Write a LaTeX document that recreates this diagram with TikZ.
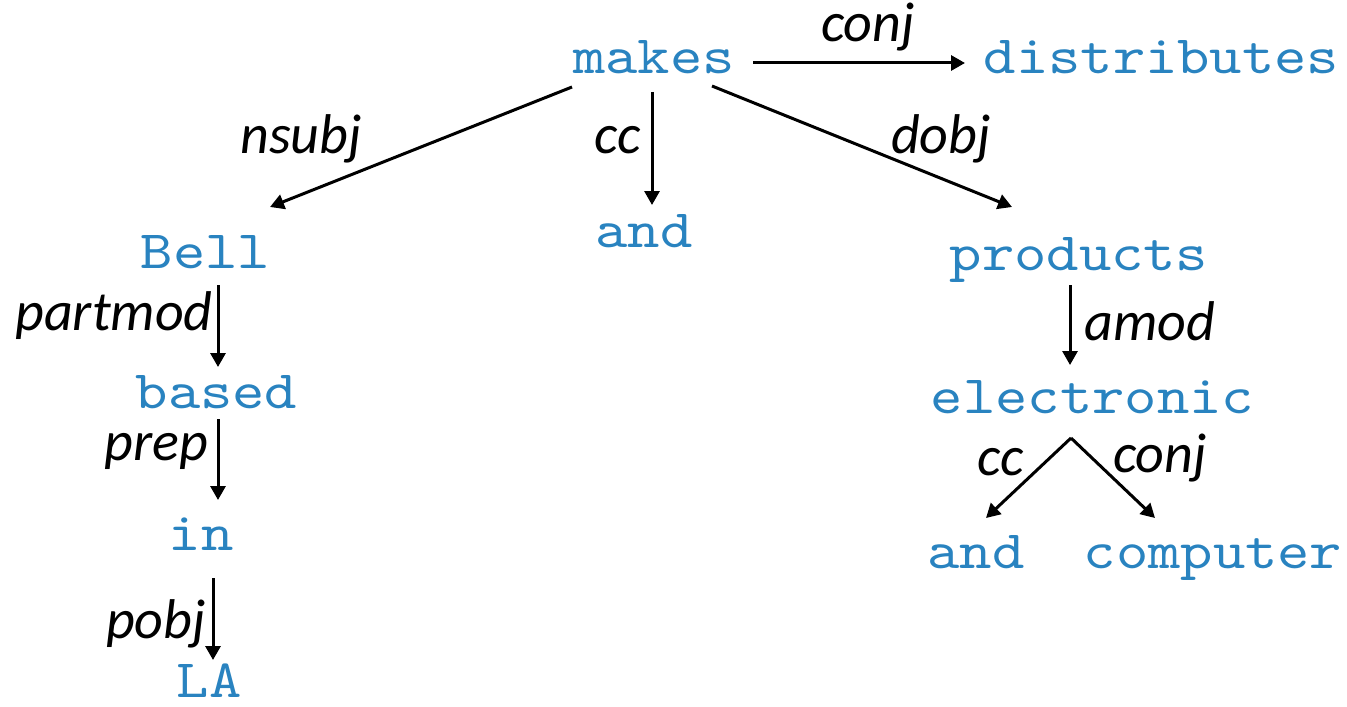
\documentclass[tikz,border=0pt]{standalone}
\usepackage{fontspec}
\newfontfamily\wordfont{lmmono10-regular.otf}[FakeStretch=1.14]
\newfontfamily\relfont{Carlito}
\usetikzlibrary{arrows.meta}
\definecolor{wordblue}{RGB}{41,131,192}

\begin{document}
\begin{tikzpicture}[x=0.5pt, y=-0.5pt, every node/.style={inner sep=0pt, anchor=base},
word/.style={text=wordblue, font={\wordfont\fontsize{27}{30}\selectfont}},
rel/.style={font={\relfont\itshape\fontsize{28}{32}\selectfont}}
]

\useasboundingbox (0,0) rectangle (1347,706);

\path
(654,74) node[word] (makes) {makes}
(1161.5,74) node[word] (distributes) {distributes}
(205.5,268) node[word] (bell) {Bell}
(644,247) node[word] (and1) {and}
(1079,270) node[word] (products) {products}
(216.5,408) node[word] (based) {based}
(1092.5,413) node[word] (electronic) {electronic}
(201,550) node[word] (in) {in}
(976,568) node[word] (and2) {and}
(1213,568) node[word] (computer) {computer}
(209,697) node[word] (la) {LA}
;

% relation labels
\path
(868,42) node[rel] (l-conj1) {conj}
(301,153) node[rel] (l-nsubj) {nsubj}
(618,153) node[rel] (l-cc1) {cc}
(941,153) node[rel] (l-dobj) {dobj}
(114,330) node[rel] (l-partmod) {partmod}
(156,460) node[rel] (l-prep) {prep}
(156,638) node[rel] (l-pobj) {pobj}
(1150,340) node[rel] (l-amod) {amod}
(1001,475) node[rel] (l-cc2) {cc}
(1160,472) node[rel] (l-conj2) {conj}
;

% dependency arcs
\begin{scope}[-{Triangle[length=7pt, width=7.5pt]}, line width=1.5pt]
\draw ([shift={(99,-11)}]makes.base) -- ([shift={(-196.5,-11)}]distributes.base) ;
\draw ([shift={(-82,13)}]makes.base) -- ([shift={(64.5,-61)}]bell.base) ;
\draw ([shift={(-2,18)}]makes.base) -- ([shift={(8,-42)}]and1.base) ;
\draw ([shift={(58,12)}]makes.base) -- ([shift={(-67,-63)}]products.base) ;
\draw ([shift={(12.5,17)}]bell.base) -- ([shift={(1.5,-41)}]based.base) ;
\draw ([shift={(1.5,11)}]based.base) -- ([shift={(17,-50)}]in.base) ;
\draw ([shift={(12,28)}]in.base) -- ([shift={(4,-37)}]la.base) ;
\draw ([shift={(-9,15)}]products.base) -- ([shift={(-22.5,-48)}]electronic.base) ;
\draw ([shift={(-21.5,25)}]electronic.base) -- ([shift={(10,-50)}]and2.base) ;
\draw ([shift={(-21.5,25)}]electronic.base) -- ([shift={(-58,-50)}]computer.base) ;
\end{scope}

\end{tikzpicture}
\end{document}
